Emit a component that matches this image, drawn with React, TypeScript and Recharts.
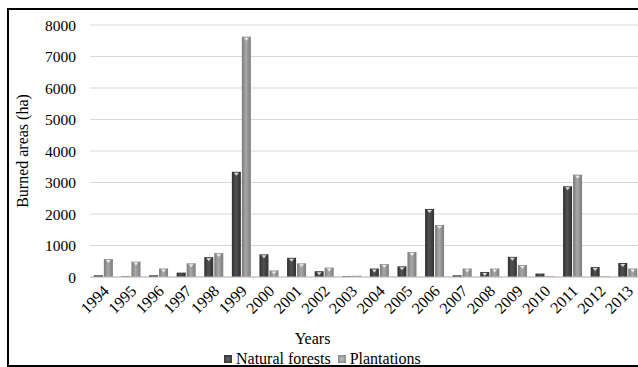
import { BarChart, Bar, XAxis, YAxis, CartesianGrid } from 'recharts'

const years = [
  '1994', '1995', '1996', '1997', '1998', '1999', '2000', '2001', '2002', '2003',
  '2004', '2005', '2006', '2007', '2008', '2009', '2010', '2011', '2012', '2013',
]
const naturalForests = [55, 20, 55, 140, 630, 3340, 720, 610, 185, 25, 270, 340, 2160, 55, 160, 640, 110, 2880, 315, 445]
const plantations = [570, 490, 270, 435, 760, 7630, 210, 435, 300, 40, 410, 790, 1650, 270, 270, 380, 20, 3250, 20, 270]
const yTicks = [0, 1000, 2000, 3000, 4000, 5000, 6000, 7000, 8000]

const data = years.map((year, i) => ({
  year,
  natural: naturalForests[i],
  plantations: plantations[i],
}))

const FONT = '"Liberation Serif", "Times New Roman", serif'

// bar with a small light notch at the top, like the bevelled office-style bars
function BevelBar(props: any) {
  const { x, y, width, height, fill } = props
  if (!height || height <= 0) return null
  const cx = x + width / 2
  return (
    <g>
      <rect x={x} y={y} width={width} height={height} fill={fill} />
      {height > 5 && (
        <polygon
          points={`${cx - 2.5},${y + 1} ${cx + 2.5},${y + 1} ${cx},${y + 4}`}
          fill="#f2f2f2"
          opacity={0.85}
        />
      )}
    </g>
  )
}

function YearTick({ x, y, payload }: any) {
  const tx = x + 6
  const ty = y + 13
  return (
    <text
      x={tx}
      y={ty}
      transform={`rotate(-45 ${tx} ${ty})`}
      textAnchor="end"
      fontSize={16}
      fontFamily={FONT}
      fill="#000"
    >
      {payload.value}
    </text>
  )
}

const swatch = (bg: string) => ({
  display: 'inline-block',
  width: 8,
  height: 8,
  background: bg,
  marginRight: 4,
  position: 'relative' as const,
  top: -1,
})

export default function App() {
  return (
    <div style={{ position: 'absolute', left: 0, top: 0, width: 638, height: 367, overflow: 'hidden', background: '#fff' }}>
      <div
        style={{
          position: 'absolute',
          left: 7,
          top: 8,
          width: 700,
          height: 359,
          border: '2px solid #000',
          boxSizing: 'border-box',
        }}
      />
      <div style={{ position: 'absolute', left: 0, top: 0 }}>
        <BarChart
          width={642}
          height={367}
          data={data}
          margin={{ top: 25, right: 0, bottom: 40, left: 30 }}
          barCategoryGap="14%"
          barGap={1}
        >
          <defs>
            <linearGradient id="gradNatural" x1="0" y1="0" x2="1" y2="0">
              <stop offset="0%" stopColor="#2f2f2f" />
              <stop offset="45%" stopColor="#525252" />
              <stop offset="100%" stopColor="#303030" />
            </linearGradient>
            <linearGradient id="gradPlant" x1="0" y1="0" x2="1" y2="0">
              <stop offset="0%" stopColor="#7a7a7a" />
              <stop offset="45%" stopColor="#a8a8a8" />
              <stop offset="100%" stopColor="#7c7c7c" />
            </linearGradient>
          </defs>
          <CartesianGrid vertical={false} stroke="#d9d9d9" />
          <XAxis
            dataKey="year"
            height={50}
            interval={0}
            tickLine={false}
            axisLine={{ stroke: '#bfbfbf' }}
            tickSize={0}
            tick={<YearTick />}
          />
          <YAxis
            width={60}
            domain={[0, 8000]}
            ticks={yTicks}
            axisLine={false}
            tickLine={false}
            tickSize={0}
            tickMargin={14}
            tick={{ fontSize: 15.5, fontFamily: FONT, fill: '#000' }}
          />
          <Bar dataKey="natural" fill="url(#gradNatural)" shape={<BevelBar />} isAnimationActive={false} />
          <Bar dataKey="plantations" fill="url(#gradPlant)" shape={<BevelBar />} isAnimationActive={false} />
        </BarChart>
      </div>
      <div
        style={{
          position: 'absolute',
          left: 23,
          top: 151,
          transform: 'translate(-50%, -50%) rotate(-90deg)',
          fontFamily: FONT,
          fontSize: 16,
          lineHeight: '16px',
          whiteSpace: 'nowrap',
          color: '#000',
        }}
      >
        Burned areas (ha)
      </div>
      <div
        style={{
          position: 'absolute',
          left: 312.5,
          top: 331,
          transform: 'translateX(-50%)',
          fontFamily: FONT,
          fontSize: 16,
          lineHeight: '16px',
          whiteSpace: 'nowrap',
          color: '#000',
        }}
      >
        Years
      </div>
      <div
        style={{
          position: 'absolute',
          left: 224,
          top: 351,
          fontFamily: FONT,
          fontSize: 16,
          lineHeight: '16px',
          whiteSpace: 'nowrap',
          color: '#000',
        }}
      >
        <span style={swatch('radial-gradient(circle, #6a6a6a 0%, #3a3a3a 70%)')} />
        Natural forests
        <span style={{ ...swatch('radial-gradient(circle, #c4c4c4 0%, #8e8e8e 70%)'), marginLeft: 7 }} />
        Plantations
      </div>
    </div>
  )
}
